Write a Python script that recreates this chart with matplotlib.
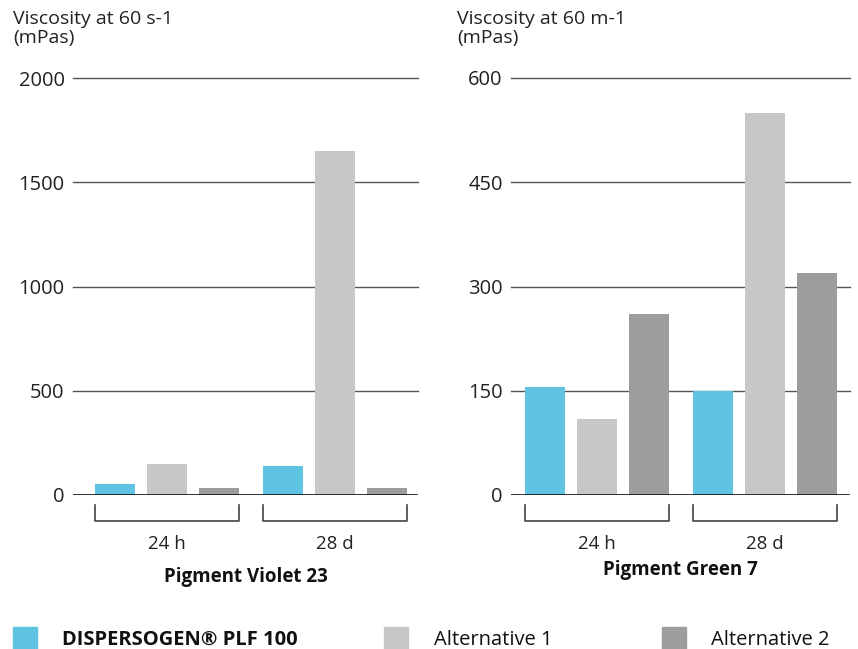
import matplotlib.pyplot as plt
from matplotlib.patches import Rectangle
import numpy as np

plt.rcParams['font.family'] = ['Open Sans', 'DejaVu Sans']

# data
groups = ['24 h', '28 d']
series = ['DISPERSOGEN® PLF 100', 'Alternative 1', 'Alternative 2']
colors = ['#5FC4E1', '#C6C7C6', '#9C9D9C']

violet_vals = [[55, 150, 35],      # 24 h
               [140, 1650, 35]]    # 28 d
green_vals = [[155, 110, 260],
              [150, 550, 320]]

violet_ticks = [0, 500, 1000, 1500, 2000]
green_ticks = [0, 150, 300, 450, 600]

fig = plt.figure(figsize=(8.58, 6.49), dpi=100)

group_pos = [0, 3.23]
bar_w = 0.77


def draw_panel(ax, vals, ticks, title, xlim, title_y):
    for g, gx in enumerate(group_pos):
        for i in range(3):
            ax.bar(gx + (i - 1), vals[g][i], width=bar_w, color=colors[i], zorder=3)
        # bracket under each group
        x0 = gx - 1 - bar_w / 2
        x1 = gx + 1 + bar_w / 2
        tr = ax.get_xaxis_transform()
        ax.plot([x0, x0, x1, x1], [-0.024, -0.0624, -0.0624, -0.024],
                color='#444444', lw=1.2, transform=tr, clip_on=False)
        ax.text(gx, -0.117, groups[g], transform=tr, ha='center', va='center',
                fontsize=13.5, color='#222222')
    ax.set_xlim(xlim)
    ax.set_ylim(0, ticks[-1])
    ax.set_yticks(ticks)
    ax.set_yticklabels([str(t) for t in ticks], fontsize=14.5, color='#222222')
    ax.tick_params(axis='y', length=0, pad=6)
    ax.set_xticks([])
    for s in ax.spines.values():
        s.set_visible(False)
    for t in ticks[1:]:
        ax.axhline(t, color='#555555', lw=1, zorder=1, clip_on=False)
    ax.axhline(0, color='#111111', lw=1.2, zorder=4)
    ax.text(0.5, title_y, title, transform=ax.transAxes, ha='center', va='center',
            fontsize=13.5, fontweight='bold', color='#111111')


ax1 = fig.add_axes([73 / 858, 1 - 495 / 649, 345 / 858, 417 / 649])
draw_panel(ax1, violet_vals, violet_ticks, 'Pigment Violet 23',
           (-1.81, 4.83), -0.197)
ax2 = fig.add_axes([511 / 858, 1 - 495 / 649, 339 / 858, 417 / 649])
draw_panel(ax2, green_vals, green_ticks, 'Pigment Green 7',
           (-1.65, 4.87), -0.18)

fig.text(13 / 858, 1 - 10 / 649, 'Viscosity at 60 s-1\n(mPas)', ha='left', va='top',
         fontsize=14, color='#222222', linespacing=1.05)
fig.text(457 / 858, 1 - 10 / 649, 'Viscosity at 60 m-1\n(mPas)', ha='left', va='top',
         fontsize=14, color='#222222', linespacing=1.05)

# legend
leg_x = [13, 384, 662]
txt_x = [62, 434, 711]
for i in range(3):
    fig.patches.append(Rectangle((leg_x[i] / 858, 0), 24 / 858, 22 / 649,
                                 transform=fig.transFigure, color=colors[i]))
    fig.text(txt_x[i] / 858, 1 - 640 / 649, series[i], ha='left', va='center',
             fontsize=14.5, color='#111111',
             fontweight='bold' if i == 0 else 'normal')

fig.savefig('out.png', dpi=100)
